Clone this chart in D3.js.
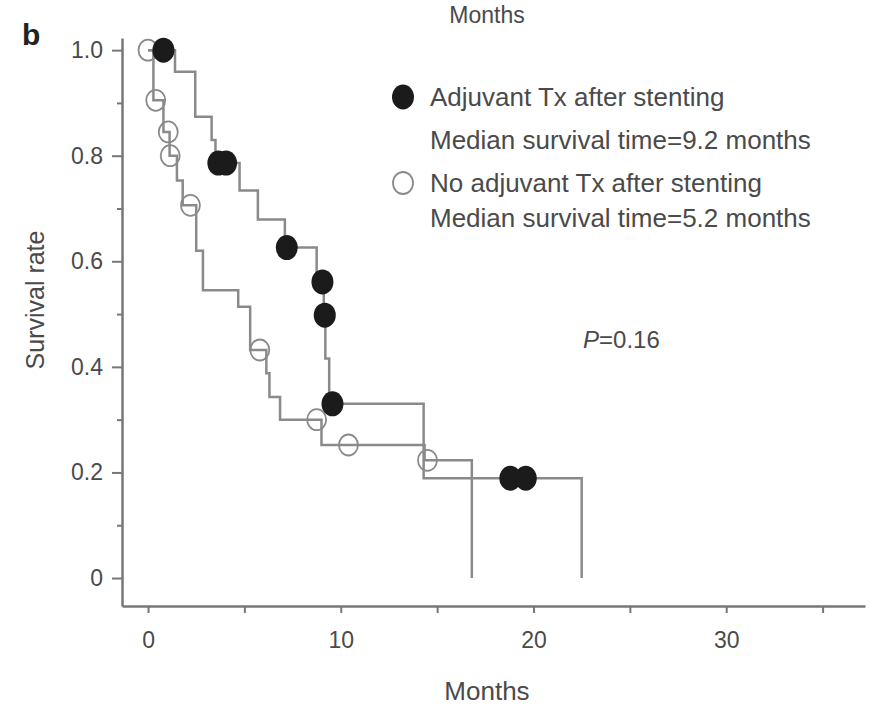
<!DOCTYPE html>
<html>
<head>
<meta charset="utf-8">
<script src="https://cdn.jsdelivr.net/npm/d3@7"></script>
<style>
  body { margin: 0; background: #fff; }
  svg text { font-family: "Liberation Sans", Arial, sans-serif; }
</style>
</head>
<body>
<div id="chart"></div>
<script>
// adjuvant Tx group (filled dots)
var adjTime = [0, 1.4, 2.45, 3.3, 3.5, 4.75, 5.7, 7.1, 8.75, 9.12, 9.2, 9.4, 14.3, 22.5];
var adjSurv = [1.0, 0.959, 0.874, 0.83, 0.786, 0.734, 0.679, 0.626, 0.561, 0.498, 0.416, 0.33, 0.189, 0];
var adjCensor = [0.8, 3.65, 4.05, 7.2, 9.05, 9.17, 9.57, 18.8, 19.6];

// no adjuvant Tx group (open circles)
var noTime = [0, 0.28, 0.8, 1.12, 1.5, 1.8, 2.5, 2.85, 4.68, 5.3, 6.14, 6.3, 6.85, 9.0, 14.35, 16.8];
var noSurv = [1.0, 0.905, 0.845, 0.80, 0.753, 0.706, 0.62, 0.545, 0.514, 0.432, 0.388, 0.343, 0.30, 0.252, 0.223, 0];
var noCensor = [0, 0.4, 1.05, 1.15, 2.2, 5.8, 8.75, 10.4, 14.5];

var xMajor = [0, 10, 20, 30];
var xMinor = [5, 15, 25, 35];
var yMajor = [0, 0.2, 0.4, 0.6, 0.8, 1.0];
var yMinor = [0.1, 0.3, 0.5, 0.7, 0.9];

var legendLines = [
  "Adjuvant Tx after stenting",
  "Median survival time=9.2 months",
  "No adjuvant Tx after stenting",
  "Median survival time=5.2 months"
];

var width = 871, height = 705;
var svg = d3.select("#chart").append("svg")
    .attr("width", width)
    .attr("height", height);

var x = d3.scaleLinear().domain([-1.35, 37.2]).range([122, 865]);
var y = d3.scaleLinear().domain([-0.053, 1.023]).range([606, 38]);

var axisColor = "#777";
var textColor = "#4a4a4a";

// value of a step curve at time t
function survAt(times, surv, t) {
  var s = surv[0];
  for (var i = 0; i < times.length; i++) {
    if (times[i] <= t) s = surv[i];
  }
  return s;
}

function styleAxis(g) {
  g.select(".domain").attr("stroke", axisColor).attr("stroke-width", 2.5);
  g.selectAll(".tick line").attr("stroke", axisColor).attr("stroke-width", 2);
  g.selectAll(".tick text").attr("fill", textColor).style("font-size", "23px");
}

// y axis
svg.append("g")
    .attr("transform", "translate(" + x.range()[0] + ",0)")
    .call(d3.axisLeft(y).tickValues(yMajor).tickSize(10).tickSizeOuter(0).tickPadding(9)
      .tickFormat(function (d) { return d === 0 ? "0" : d3.format(".1f")(d); }))
    .call(styleAxis);
svg.append("g")
    .attr("transform", "translate(" + x.range()[0] + ",0)")
    .call(d3.axisLeft(y).tickValues(yMinor).tickSize(5).tickSizeOuter(0).tickFormat(""))
    .call(styleAxis)
    .select(".domain").remove();

// x axis
svg.append("g")
    .attr("transform", "translate(0," + y.range()[0] + ")")
    .call(d3.axisBottom(x).tickValues(xMajor).tickSize(7).tickSizeOuter(0).tickPadding(19)
      .tickFormat(d3.format("d")))
    .call(styleAxis);
svg.append("g")
    .attr("transform", "translate(0," + y.range()[0] + ")")
    .call(d3.axisBottom(x).tickValues(xMinor).tickSize(7).tickSizeOuter(0).tickFormat(""))
    .call(styleAxis)
    .select(".domain").remove();

// axis titles
svg.append("text")
    .attr("x", 487).attr("y", 700)
    .attr("text-anchor", "middle")
    .attr("fill", textColor)
    .style("font-size", "26px")
    .text("Months");

svg.append("text")
    .attr("transform", "translate(44,300) rotate(-90)")
    .attr("text-anchor", "middle")
    .attr("fill", textColor)
    .style("font-size", "25px")
    .text("Survival rate");

// remnant of the panel above
svg.append("text")
    .attr("x", 487).attr("y", 23)
    .attr("text-anchor", "middle")
    .attr("fill", textColor)
    .style("font-size", "23px")
    .text("Months");

// panel letter
svg.append("text")
    .attr("x", 22).attr("y", 45)
    .attr("fill", "#222")
    .style("font-size", "30px")
    .style("font-weight", "bold")
    .text("b");

// step curves
var line = d3.line()
    .x(function (d) { return x(d[0]); })
    .y(function (d) { return y(d[1]); })
    .curve(d3.curveStepAfter);

svg.append("path")
    .datum(d3.zip(noTime, noSurv))
    .attr("d", line)
    .attr("fill", "none")
    .attr("stroke", "#8a8a8a")
    .attr("stroke-width", 2.5);

svg.append("path")
    .datum(d3.zip(adjTime, adjSurv))
    .attr("d", line)
    .attr("fill", "none")
    .attr("stroke", "#8a8a8a")
    .attr("stroke-width", 2.5);

// censor marks
svg.selectAll(".open")
    .data(noCensor)
    .enter().append("ellipse")
    .attr("class", "open")
    .attr("cx", function (d) { return x(d); })
    .attr("cy", function (d) { return y(survAt(noTime, noSurv, d)); })
    .attr("rx", 9.5).attr("ry", 10.5)
    .attr("fill", "none")
    .attr("stroke", "#8a8a8a")
    .attr("stroke-width", 1.8);

svg.selectAll(".filled")
    .data(adjCensor)
    .enter().append("ellipse")
    .attr("class", "filled")
    .attr("cx", function (d) { return x(d); })
    .attr("cy", function (d) { return y(survAt(adjTime, adjSurv, d)); })
    .attr("rx", 11).attr("ry", 12.5)
    .attr("fill", "#1b1b1b");

// legend
var legY = [97, 140, 183, 218];
svg.append("ellipse")
    .attr("cx", 403).attr("cy", legY[0])
    .attr("rx", 11).attr("ry", 12.5)
    .attr("fill", "#1b1b1b");
svg.append("ellipse")
    .attr("cx", 403).attr("cy", legY[2])
    .attr("rx", 10).attr("ry", 11)
    .attr("fill", "none")
    .attr("stroke", "#8a8a8a")
    .attr("stroke-width", 1.8);

svg.selectAll(".leg")
    .data(legendLines)
    .enter().append("text")
    .attr("class", "leg")
    .attr("x", 430)
    .attr("y", function (d, i) { return legY[i]; })
    .attr("dy", "0.35em")
    .attr("fill", textColor)
    .style("font-size", "26px")
    .text(function (d) { return d; });

// p value
var p = svg.append("text")
    .attr("x", 583).attr("y", 340)
    .attr("dy", "0.35em")
    .attr("fill", textColor)
    .style("font-size", "24px");
p.append("tspan").style("font-style", "italic").text("P");
p.append("tspan").text("=0.16");
</script>
</body>
</html>
